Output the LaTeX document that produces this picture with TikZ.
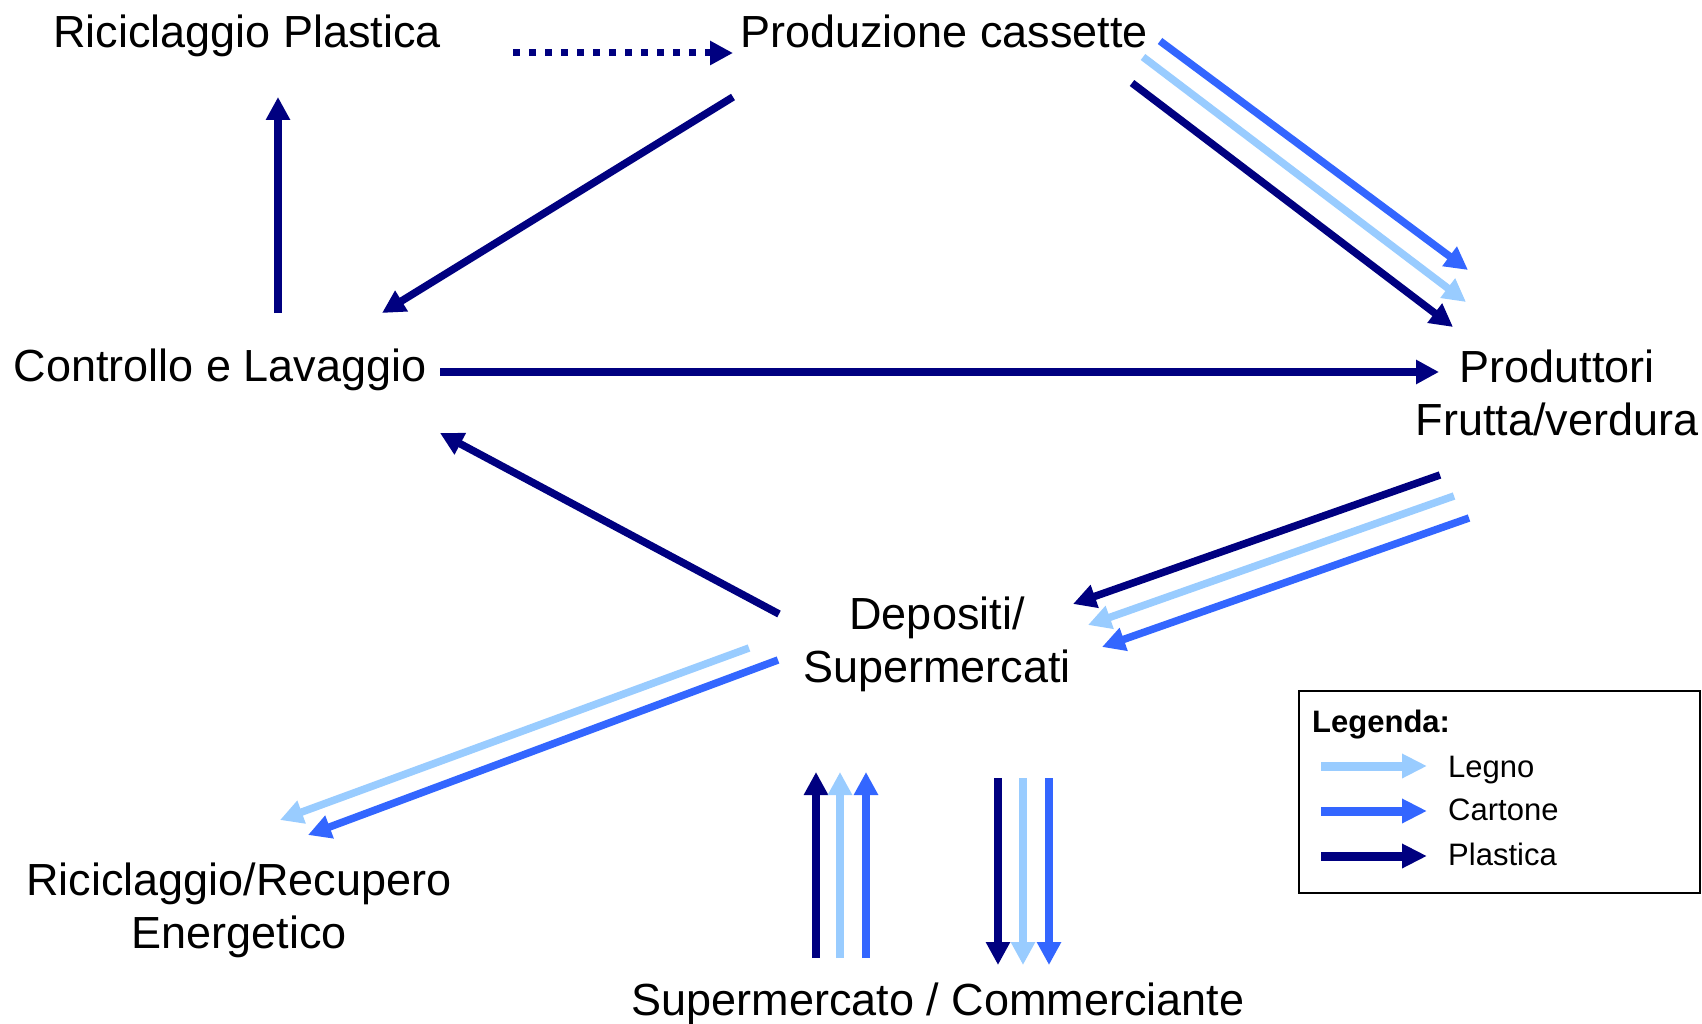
\documentclass[tikz,border=0pt]{standalone}
\usepackage{fontspec}
\setmainfont{Liberation Sans}
\usetikzlibrary{arrows.meta}
\definecolor{plast}{HTML}{000080}
\definecolor{legno}{HTML}{99CCFF}
\definecolor{carto}{HTML}{3366FF}
\begin{document}
\begin{tikzpicture}[x=1pt,y=-1pt,
  lbl/.style={inner sep=0pt, anchor=base, font=\fontsize{45}{53}\selectfont, align=center},
  legtxt/.style={inner sep=0pt, anchor=base west, font=\fontsize{31}{37}\selectfont},
  flow/.style={line width=7.5pt, -{Triangle[length=23pt,width=23pt]}},
  legflow/.style={line width=9pt, -{Triangle[length=25pt,width=23pt]}},
  dotflow/.style={line width=7pt, dash pattern=on 7pt off 9pt, -{Triangle[length=23pt,width=23pt]}}]
\useasboundingbox (0,0) rectangle (1702,1024);
\fill[white] (0,0) rectangle (1702,1024);

% nodes (multi-line nodes are anchored at the baseline of their last line)
\node[lbl] (ricpl) at (247,48) {Riciclaggio Plastica};
\node[lbl] (prod) at (944,48) {Produzione cassette};
\node[lbl] (ctrl) at (220,381) {Controllo e Lavaggio};
\node[lbl] (pfv) at (1557,435) {Produttori\\Frutta/verdura};
\node[lbl] (dep) at (937,682) {Depositi/\\Supermercati};
\node[lbl] (rre) at (239,948) {Riciclaggio/Recupero\\Energetico};
\node[lbl] (smc) at (938,1015) {Supermercato / Commerciante};

% endpoints
\coordinate (dotS) at (513,53);   \coordinate (dotE) at (733,53);
\coordinate (upS) at (278,313);   \coordinate (upE) at (278,97);
\coordinate (pcS) at (733,97);    \coordinate (pcE) at (382,313);
\coordinate (ppCs) at (1160,41);  \coordinate (ppCe) at (1468,270);
\coordinate (ppLs) at (1143,57);  \coordinate (ppLe) at (1466,302);
\coordinate (ppPs) at (1132,83);  \coordinate (ppPe) at (1453,327);
\coordinate (cpS) at (440,372);   \coordinate (cpE) at (1439,372);
\coordinate (dcS) at (779,614);   \coordinate (dcE) at (440,433);
\coordinate (pdPs) at (1440,475); \coordinate (pdPe) at (1073,604);
\coordinate (pdLs) at (1454,496); \coordinate (pdLe) at (1088,625);
\coordinate (pdCs) at (1469,518); \coordinate (pdCe) at (1102,647);
\coordinate (drLs) at (749,648);  \coordinate (drLe) at (280,820);
\coordinate (drCs) at (778,660);  \coordinate (drCe) at (308,835);
\coordinate (suPs) at (816,958);  \coordinate (suPe) at (816,772);
\coordinate (suLs) at (840,958);  \coordinate (suLe) at (840,772);
\coordinate (suCs) at (866,958);  \coordinate (suCe) at (866,772);
\coordinate (sdPs) at (998,778);  \coordinate (sdPe) at (998,965);
\coordinate (sdLs) at (1023,778); \coordinate (sdLe) at (1023,965);
\coordinate (sdCs) at (1049,778); \coordinate (sdCe) at (1049,965);

% connectors
\draw[dotflow, plast] (dotS) -- (dotE);
\draw[flow, plast] (upS) -- (upE);
\draw[flow, plast] (pcS) -- (pcE);
\draw[flow, carto] (ppCs) -- (ppCe);
\draw[flow, legno] (ppLs) -- (ppLe);
\draw[flow, plast] (ppPs) -- (ppPe);
\draw[flow, plast] (cpS) -- (cpE);
\draw[flow, plast] (dcS) -- (dcE);
\draw[flow, plast] (pdPs) -- (pdPe);
\draw[flow, legno] (pdLs) -- (pdLe);
\draw[flow, carto] (pdCs) -- (pdCe);
\draw[flow, legno] (drLs) -- (drLe);
\draw[flow, carto] (drCs) -- (drCe);
\draw[flow, plast] (suPs) -- (suPe);
\draw[flow, legno] (suLs) -- (suLe);
\draw[flow, carto] (suCs) -- (suCe);
\draw[flow, plast] (sdPs) -- (sdPe);
\draw[flow, legno] (sdLs) -- (sdLe);
\draw[flow, carto] (sdCs) -- (sdCe);

% legend
\node[draw=black, line width=1.5pt, inner sep=0pt, minimum width=401pt, minimum height=202pt, anchor=north west] (leg) at (1298,690) {};
\node[legtxt, font=\fontsize{31}{37}\selectfont\bfseries] (legt) at (1312,732) {Legenda:};
\coordinate (lLs) at (1321,766); \coordinate (lLe) at (1427,766);
\coordinate (lCs) at (1321,811); \coordinate (lCe) at (1427,811);
\coordinate (lPs) at (1321,856); \coordinate (lPe) at (1427,856);
\draw[legflow, legno] (lLs) -- (lLe);
\draw[legflow, carto] (lCs) -- (lCe);
\draw[legflow, plast] (lPs) -- (lPe);
\node[legtxt] (lLt) at (1448,777) {Legno};
\node[legtxt] (lCt) at (1448,820) {Cartone};
\node[legtxt] (lPt) at (1448,865) {Plastica};
\end{tikzpicture}
\end{document}
